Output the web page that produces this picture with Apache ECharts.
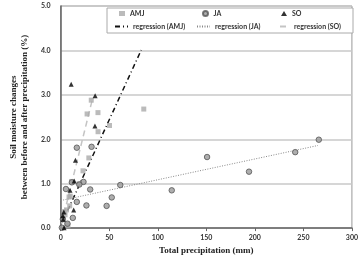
<!DOCTYPE html>
<html>
<head>
<meta charset="utf-8">
<script src="https://cdn.jsdelivr.net/npm/echarts@6/dist/echarts.min.js"></script>
<style>
  html, body { margin: 0; padding: 0; background: #fff; }
  #chart { width: 361px; height: 260px; }
</style>
</head>
<body>
<div id="chart"></div>
<script>
// points: [precipitation mm, moisture change %]
var amjPoints = [
  [85.6, 2.68], [31.5, 2.88], [27.2, 2.57], [38.4, 2.6], [50.3, 2.31],
  [38.5, 2.17], [29, 1.58], [23, 1.29], [19, 1.0], [11.2, 1.05],
  [9.9, 0.72], [8.6, 0.7], [9.3, 0.5], [6, 0.41], [3.5, 0.37],
  [4.5, 0.3], [6.4, 0.09], [7.5, 0.05]
];
var jaPoints = [
  [265.9, 1.99], [241.6, 1.71], [150.8, 1.6], [194, 1.27], [114.4, 0.85],
  [61.4, 0.97], [52.6, 0.69], [47.3, 0.5], [30.4, 0.87], [26.5, 0.51],
  [16.6, 0.59], [12.5, 0.23], [7, 0.1], [1.2, 0.01], [23.5, 1.04],
  [19.2, 0.98], [11.5, 1.03], [5.4, 0.88], [16.6, 1.81], [31.8, 1.83],
  [2.2, 0.2]
];
var soPoints = [
  [10.8, 3.24], [35.5, 2.98], [35.3, 2.3], [15.2, 1.53], [14, 1.06],
  [9.6, 0.85], [13.4, 0.41], [3.2, 0.36], [2.2, 0.28], [2.6, 0.2],
  [3.5, 0.01]
];
// regression lines, end points
var regAMJ = [[2, 0.15], [83, 4.01]];
var regJA = [[0, 0.62], [265, 1.86]];
var regSO = [[1, 0.1], [33, 2.93]];

var xTicks = { min: 0, max: 300, step: 50 };
var yTicks = { min: 0, max: 5, step: 1 };

var myChart = echarts.init(document.getElementById("chart"));

var legendFont = { fontFamily: "Lato", fontSize: 7, fontWeight: "bold", color: "#333" };
function oneLegend(name, left, top, w, h, isLine) {
  var lg = {
    data: [name],
    left: left,
    top: top,
    padding: 0,
    itemWidth: w,
    itemHeight: h,
    textStyle: legendFont,
    z: 5
  };
  if (isLine) {
    lg.itemStyle = { opacity: 0 };
  }
  return lg;
}

myChart.setOption({
  animation: false,
  grid: {
    left: 41, right: 7, top: 6, bottom: 23,
    show: true, borderColor: "#999", borderWidth: 1
  },
  graphic: [{
    type: "rect",
    shape: { x: 107, y: 8, width: 246, height: 25 },
    style: { fill: "#fff", stroke: "#aaa", lineWidth: 1 },
    z: 3
  }],
  legend: [
    oneLegend("AMJ", 119, 10, 6, 5),
    oneLegend("JA", 202, 10, 6, 5),
    oneLegend("SO", 281, 10, 6, 5),
    oneLegend("regression (AMJ)", 114, 23, 13, 6, true),
    oneLegend("regression (JA)", 196, 23, 13, 6, true),
    oneLegend("regression (SO)", 279, 23, 9, 6, true)
  ],
  xAxis: {
    type: "value",
    min: xTicks.min, max: xTicks.max, interval: xTicks.step,
    name: "Total precipitation (mm)",
    nameLocation: "middle",
    nameGap: 13,
    nameTextStyle: { fontFamily: "Liberation Serif", fontWeight: "bold", fontSize: 9, color: "#222" },
    axisLine: { lineStyle: { color: "#666", width: 1.5 } },
    axisTick: { show: true, length: 3, lineStyle: { color: "#666" } },
    axisLabel: { fontFamily: "Lato", fontWeight: "bold", fontSize: 7, color: "#333", margin: 6 },
    splitLine: { show: false }
  },
  yAxis: {
    type: "value",
    min: yTicks.min, max: yTicks.max, interval: yTicks.step,
    name: "Soil moisture changes\nbetween before and after precipitation (%)",
    nameLocation: "middle",
    nameGap: 12,
    nameTextStyle: { fontFamily: "Liberation Serif", fontWeight: "bold", fontSize: 9, lineHeight: 11, color: "#222" },
    axisLine: { show: true, lineStyle: { color: "#666", width: 1.5 } },
    axisTick: { show: false },
    axisLabel: {
      fontFamily: "Lato", fontWeight: "bold", fontSize: 7, color: "#333", margin: 10,
      formatter: function (v) { return v.toFixed(1); }
    },
    splitLine: { lineStyle: { color: "#c8c8c8", width: 1.5 } }
  },
  series: [
    {
      name: "AMJ", type: "scatter", data: amjPoints,
      symbol: "rect", symbolSize: 5,
      itemStyle: { color: "#aaa" }, z: 3
    },
    {
      name: "JA", type: "scatter", data: jaPoints,
      symbol: "circle", symbolSize: 5.5,
      itemStyle: { color: "#9a9a9a", borderColor: "#555", borderWidth: 1 }, z: 3
    },
    {
      name: "SO", type: "scatter", data: soPoints,
      symbol: "triangle", symbolSize: 5,
      itemStyle: { color: "#000" }, z: 4
    },
    {
      name: "regression (AMJ)", type: "line", data: regAMJ,
      symbol: "none", silent: true,
      itemStyle: { color: "#111" },
      lineStyle: { color: "#111", width: 1.5, type: [5, 3, 1, 3] }, z: 2
    },
    {
      name: "regression (JA)", type: "line", data: regJA,
      symbol: "none", silent: true,
      itemStyle: { color: "#888" },
      lineStyle: { color: "#888", width: 1, type: [1, 1.5] }, z: 2
    },
    {
      name: "regression (SO)", type: "line", data: regSO,
      symbol: "none", silent: true,
      itemStyle: { color: "#c4c4c4" },
      lineStyle: { color: "#c4c4c4", width: 1.5, type: [6, 4] }, z: 2
    }
  ]
});
</script>
</body>
</html>
